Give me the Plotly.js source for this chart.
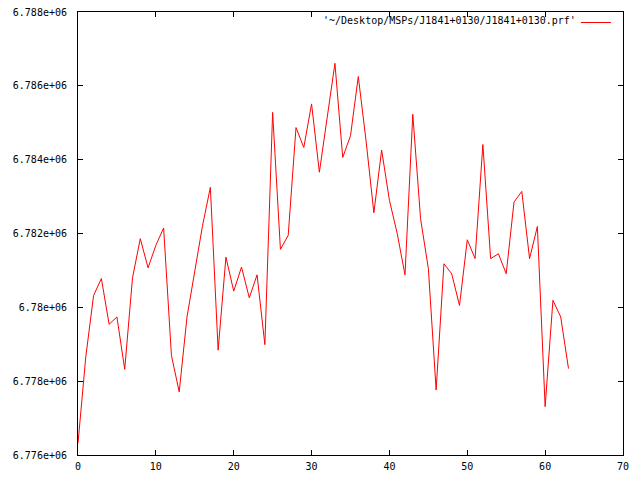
<!DOCTYPE html>
<html>
<head>
<meta charset="utf-8">
<script src="https://cdn.plot.ly/plotly-3.0.1.min.js"></script>
<style>html,body{margin:0;padding:0;background:#fff;}#chart{width:640px;height:480px;}</style>
</head>
<body>
<div id="chart"></div>
<script>
const seriesName = "'~/Desktop/MSPs/J1841+0130/J1841+0130.prf'";
const bins = Array.from({length: 64}, (_, i) => i);
const values = [
  6776320, 6778660, 6780320, 6780780, 6779540, 6779740, 6778320, 6780800,
  6781860, 6781070, 6781680, 6782150, 6778700, 6777710, 6779740, 6780950,
  6782220, 6783250, 6778840, 6781360, 6780440, 6781090, 6780260, 6780880,
  6778990, 6785280, 6781570, 6781950, 6784870, 6784330, 6785510, 6783660,
  6785100, 6786610, 6784060, 6784650, 6786250, 6784510, 6782560, 6784260,
  6782900, 6782000, 6780880, 6785230, 6782400, 6781050, 6777760, 6781180,
  6780910, 6780050, 6781830, 6781320, 6784410, 6781320, 6781450, 6780910,
  6782850, 6783140, 6781320, 6782190, 6777310, 6780190, 6779740, 6778340
];
const xTickVals = [0, 10, 20, 30, 40, 50, 60, 70];
const xTickText = ["0", "10", "20", "30", "40", "50", "60", "70"];
const yTickVals = [6776000, 6778000, 6780000, 6782000, 6784000, 6786000, 6788000];
const yTickText = ["6.776e+06", "6.778e+06", "6.78e+06", "6.782e+06", "6.784e+06", "6.786e+06", "6.788e+06"];

const font = {family: "DejaVu Sans Mono, monospace", size: 10, color: "#000"};

const trace = {
  x: bins, y: values, type: "scatter", mode: "lines",
  name: " ",
  line: {color: "#ff0000", width: 1}
};

const axisCommon = {
  showgrid: false, zeroline: false, showline: true, linecolor: "#000", linewidth: 1,
  mirror: "allticks", ticks: "inside", ticklen: 5, tickcolor: "#000", tickwidth: 1,
  tickfont: font, tickmode: "array"
};

const layout = {
  width: 640, height: 480,
  margin: {l: 78, r: 17, t: 12, b: 25, autoexpand: false},
  paper_bgcolor: "#fff", plot_bgcolor: "#fff",
  font: font,
  showlegend: true,
  legend: {x: 0.9137, xanchor: "left", y: 1.009, yanchor: "top", bgcolor: "rgba(0,0,0,0)", font: font, borderwidth: 0},
  annotations: [{
    text: seriesName, xref: "paper", yref: "paper", x: 0.917, y: 0.98,
    xanchor: "right", yanchor: "middle", showarrow: false, font: font
  }],
  xaxis: Object.assign({}, axisCommon, {range: [0, 70], tickvals: xTickVals, ticktext: xTickText, ticklabelstandoff: 2}),
  yaxis: Object.assign({}, axisCommon, {range: [6776000, 6788000], tickvals: yTickVals, ticktext: yTickText, ticklabelstandoff: 8})
};

Plotly.newPlot("chart", [trace], layout, {displayModeBar: false, staticPlot: true});
</script>
</body>
</html>
